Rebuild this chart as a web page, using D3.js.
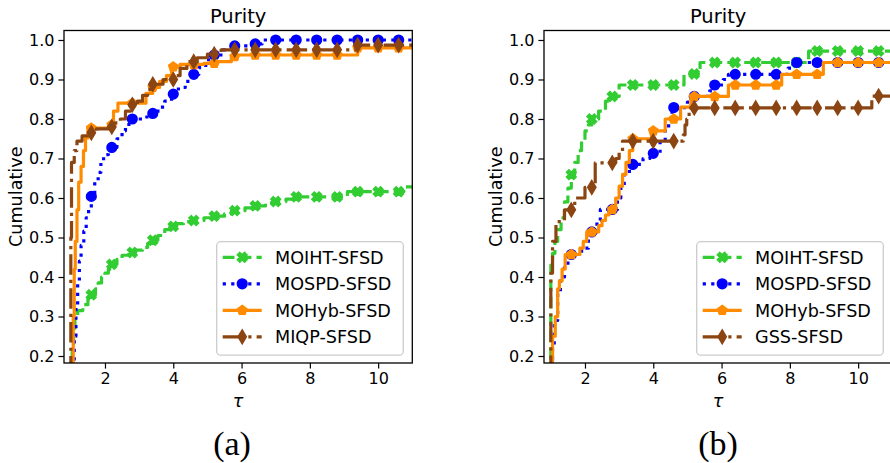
<!DOCTYPE html>
<html><head><meta charset="utf-8">
<script src="https://cdn.jsdelivr.net/npm/d3@7"></script>
<style>body{margin:0;background:#fff} svg{display:block}</style>
</head><body><svg id="c" width="890" height="463"></svg>
<script>
// ---------- data ----------
const xTicks = [2, 4, 6, 8, 10];
const yTicks = [0.2, 0.3, 0.4, 0.5, 0.6, 0.7, 0.8, 0.9, 1.0];
const markerTau = [1.6, 2.2, 2.8, 3.4, 4.0, 4.6, 5.2, 5.8, 6.4, 7.0, 7.6, 8.2, 8.8, 9.4, 10.0, 10.6];
const panelTitles = ["Purity", "Purity"];
const captions = ["(a)", "(b)"];
const namesA = ["MOIHT-SFSD", "MOSPD-SFSD", "MOHyb-SFSD", "MIQP-SFSD"];
const namesB = ["MOIHT-SFSD", "MOSPD-SFSD", "MOHyb-SFSD", "GSS-SFSD"];

// panel (a): [tau, cumulative] step points
const a_MOIHT = [[1.0,0.15],[1.04,0.22],[1.08,0.27],[1.12,0.30],[1.2,0.315],[1.35,0.33],[1.5,0.345],[1.6,0.355],[1.72,0.37],[1.8,0.385],[1.9,0.40],[2.0,0.41],[2.1,0.42],[2.2,0.432],[2.35,0.445],[2.5,0.455],[2.7,0.462],[2.9,0.468],[3.1,0.475],[3.25,0.485],[3.4,0.493],[3.55,0.505],[3.75,0.52],[3.9,0.528],[4.1,0.535],[4.3,0.54],[4.6,0.543],[4.9,0.55],[5.1,0.554],[5.5,0.56],[5.7,0.568],[6.1,0.575],[6.3,0.58],[6.7,0.587],[6.9,0.591],[7.3,0.597],[7.6,0.603],[9.1,0.616],[10.75,0.628]];
const a_MOSPD = [[1.05,0.15],[1.1,0.25],[1.15,0.33],[1.2,0.39],[1.25,0.44],[1.3,0.48],[1.38,0.516],[1.45,0.55],[1.52,0.575],[1.6,0.604],[1.7,0.64],[1.8,0.665],[1.88,0.69],[1.96,0.71],[2.1,0.72],[2.2,0.728],[2.35,0.75],[2.5,0.77],[2.6,0.786],[2.8,0.80],[3.1,0.805],[3.4,0.814],[3.55,0.83],[3.75,0.845],[3.95,0.863],[4.15,0.88],[4.35,0.895],[4.55,0.913],[4.75,0.93],[4.95,0.95],[5.15,0.962],[5.45,0.975],[5.75,0.985],[6.3,0.99],[6.6,1.0]];
const a_MOHyb = [[1.03,0.15],[1.07,0.30],[1.1,0.42],[1.13,0.49],[1.18,0.57],[1.23,0.64],[1.3,0.68],[1.37,0.72],[1.43,0.752],[1.5,0.777],[2.15,0.785],[2.25,0.82],[2.38,0.84],[3.2,0.865],[3.4,0.88],[3.6,0.895],[3.8,0.91],[3.95,0.932],[4.2,0.938],[4.9,0.941],[5.3,0.945],[5.7,0.958],[5.85,0.962],[9.4,0.98]];
const a_MIQP = [[0.98,0.15],[1.0,0.50],[1.02,0.69],[1.1,0.72],[1.18,0.744],[1.33,0.757],[1.5,0.765],[1.75,0.775],[2.1,0.78],[2.3,0.79],[2.45,0.80],[2.6,0.82],[2.75,0.836],[2.95,0.845],[3.1,0.86],[3.25,0.875],[3.35,0.888],[3.7,0.90],[4.1,0.91],[4.2,0.928],[4.4,0.945],[4.7,0.955],[5.0,0.964],[5.4,0.975],[9.35,0.987]];

// panel (b)
const b_MOIHT = [[0.99,0.15],[1.0,0.43],[1.05,0.46],[1.12,0.49],[1.2,0.52],[1.3,0.55],[1.4,0.59],[1.5,0.625],[1.6,0.659],[1.7,0.69],[1.8,0.72],[1.9,0.745],[2.0,0.77],[2.1,0.785],[2.2,0.80],[2.4,0.82],[2.6,0.845],[2.75,0.857],[3.0,0.886],[4.9,0.914],[5.37,0.943],[8.55,0.972]];
const b_MOSPD = [[1.02,0.15],[1.05,0.22],[1.1,0.29],[1.2,0.36],[1.28,0.40],[1.4,0.43],[1.5,0.457],[1.9,0.473],[2.1,0.514],[2.35,0.543],[2.45,0.571],[2.95,0.60],[3.05,0.63],[3.15,0.66],[3.3,0.685],[3.7,0.70],[3.9,0.713],[4.2,0.74],[4.35,0.77],[4.45,0.80],[4.55,0.829],[5.0,0.843],[5.1,0.857],[5.65,0.871],[5.75,0.886],[6.05,0.90],[6.2,0.913],[7.95,0.929],[8.1,0.943]];
const b_MOHyb = [[1.0,0.15],[1.05,0.25],[1.13,0.30],[1.2,0.37],[1.25,0.39],[1.33,0.42],[1.42,0.457],[1.85,0.473],[1.95,0.49],[2.05,0.514],[2.4,0.53],[2.5,0.543],[2.6,0.557],[2.7,0.571],[2.9,0.60],[3.0,0.63],[3.1,0.66],[3.2,0.69],[3.3,0.72],[3.4,0.75],[3.95,0.77],[4.35,0.80],[4.8,0.83],[5.1,0.857],[6.2,0.886],[7.76,0.913],[8.98,0.943]];
const b_GSS = [[0.99,0.15],[1.0,0.41],[1.05,0.49],[1.15,0.54],[1.4,0.57],[1.7,0.60],[2.0,0.627],[2.3,0.689],[2.9,0.70],[3.0,0.715],[3.1,0.744],[4.88,0.76],[4.93,0.785],[4.98,0.80],[5.05,0.828],[10.4,0.858]];

const tauMax = 11.3;

// ---------- drawing ----------
const FONT = "'DejaVu Sans'";
const svg = d3.select("#c");
const M = 9.6, EW = 1.6, LW = 3.2;
const styles = [
  {color:"#32cd32", dash:"11.8,5.1", marker:"X"},
  {color:"#0000ff", dash:"3.2,5.3", marker:"o"},
  {color:"#ff8c00", dash:null, marker:"p"},
  {color:"#8b4513", dash:"20.5,5.1,3.2,5.1", marker:"d"}
];
function markerPath(kind){
  const h = M/2;
  let pts;
  if (kind==="o") return d3.symbol(d3.symbolCircle, Math.PI*h*h)();
  if (kind==="X") {
    const u=[[-0.25,-0.5],[0,-0.25],[0.25,-0.5],[0.5,-0.25],[0.25,0],[0.5,0.25],[0.25,0.5],[0,0.25],[-0.25,0.5],[-0.5,0.25],[-0.25,0],[-0.5,-0.25]];
    pts = u.map(p=>[p[0]*M,p[1]*M]);
  } else if (kind==="p") {
    pts = d3.range(5).map(i=>{const a=-Math.PI/2+i*2*Math.PI/5; return [h*Math.cos(a), h*Math.sin(a)];});
  } else {
    const d = M*Math.SQRT2/2;
    pts = [[0,-d],[0.6*d,0],[0,d],[-0.6*d,0]];
  }
  return "M"+pts.map(p=>p.join(",")).join("L")+"Z";
}
function stepVal(data, t){
  let v = null;
  for (const p of data) { if (p[0] <= t + 1e-9) v = p[1]; }
  return v;
}

const panels = [
  {ox:0, series:[a_MOIHT,a_MOSPD,a_MOHyb,a_MIQP], names:namesA, title:panelTitles[0], cap:captions[0], capX:232},
  {ox:480, series:[b_MOIHT,b_MOSPD,b_MOHyb,b_GSS], names:namesB, title:panelTitles[1], cap:captions[1], capX:718}
];

panels.forEach((P, pi) => {
  const L = 64 + P.ox, R = 412.3 + P.ox, T = 30.5, B = 363;
  const x = d3.scaleLinear().domain([0.8, 11.0]).range([L, R]);
  const y = d3.scaleLinear().domain([0.1823, 1.024]).range([B, T]);
  const g = svg.append("g");
  const cid = "clip"+pi;
  svg.append("clipPath").attr("id", cid).append("rect").attr("x", L).attr("y", T).attr("width", R-L).attr("height", B-T);
  const plot = g.append("g").attr("clip-path", `url(#${cid})`);
  const line = d3.line().x(d=>x(d[0])).y(d=>y(d[1])).curve(d3.curveStepAfter);
  P.series.forEach((data, si) => {
    const st = styles[si];
    const full = data.concat([[tauMax, data[data.length-1][1]]]);
    const path = plot.append("path").datum(full).attr("d", line)
      .attr("fill","none").attr("stroke", st.color).attr("stroke-width", LW)
      .attr("stroke-linejoin","round");
    if (st.dash) path.attr("stroke-dasharray", st.dash).attr("stroke-linecap","butt");
    else path.attr("stroke-linecap","square");
    const mp = markerPath(st.marker);
    plot.selectAll(null).data(markerTau.map(t=>[t, stepVal(data, t)]).filter(d=>d[1]!==null))
      .enter().append("path").attr("d", mp)
      .attr("transform", d=>`translate(${x(d[0])},${y(d[1])})`)
      .attr("fill", st.color).attr("stroke", st.color).attr("stroke-width", EW);
  });
  // axes
  const xa = g.append("g").attr("transform", `translate(0,${B})`)
    .call(d3.axisBottom(x).tickValues(xTicks).tickFormat(d3.format("d")).tickSize(5.6).tickPadding(4));
  const ya = g.append("g").attr("transform", `translate(${L},0)`)
    .call(d3.axisLeft(y).tickValues(yTicks).tickFormat(d3.format(".1f")).tickSize(5.6).tickPadding(4));
  [xa, ya].forEach(a => {
    a.select(".domain").remove();
    a.selectAll("line").attr("stroke","#000").attr("stroke-width",1.2);
    a.selectAll("text").attr("font-size", 16).attr("fill","#000").style("font-family", FONT);
  });
  g.append("rect").attr("x", L).attr("y", T).attr("width", R-L).attr("height", B-T)
    .attr("fill","none").attr("stroke","#000").attr("stroke-width",1.3);
  // labels
  g.append("text").attr("x", (L+R)/2).attr("y", 23).attr("text-anchor","middle").attr("font-size",19.5).style("font-family", FONT).text(P.title);
  g.append("text").attr("x", (L+R)/2).attr("y", 407).attr("text-anchor","middle").attr("font-size",17.6).attr("font-style","italic").style("font-family", FONT).text("τ");
  g.append("text").attr("transform", `translate(${22+P.ox},${(T+B)/2}) rotate(-90)`).attr("text-anchor","middle").attr("font-size",17.6).style("font-family", FONT).text("Cumulative");
  g.append("text").attr("x", P.capX).attr("y", 455).attr("text-anchor","middle").attr("font-size",34)
    .style("font-family","'Liberation Serif'").text(P.cap);
  // legend
  const lg = g.append("g");
  lg.append("rect").attr("x", 216.7+P.ox).attr("y", 241.7).attr("width", 186.6).attr("height", 113.5)
    .attr("rx", 4).attr("fill","#fff").attr("fill-opacity",0.8).attr("stroke","#cccccc").attr("stroke-width",1.3);
  P.names.forEach((nm, si) => {
    const st = styles[si];
    const cy = 257.3 + si*26.5;
    const hl = lg.append("line").attr("x1", 222.7+P.ox).attr("x2", 261.7+P.ox).attr("y1", cy).attr("y2", cy)
      .attr("stroke", st.color).attr("stroke-width", LW);
    if (st.dash) hl.attr("stroke-dasharray", st.dash);
    lg.append("path").attr("d", markerPath(st.marker)).attr("transform", `translate(${242.2+P.ox},${cy})`)
      .attr("fill", st.color).attr("stroke", st.color).attr("stroke-width", EW);
    lg.append("text").attr("x", 275+P.ox).attr("y", cy + 6.4).attr("font-size",17.6).style("font-family", FONT).text(nm);
  });
});
</script></body></html>
